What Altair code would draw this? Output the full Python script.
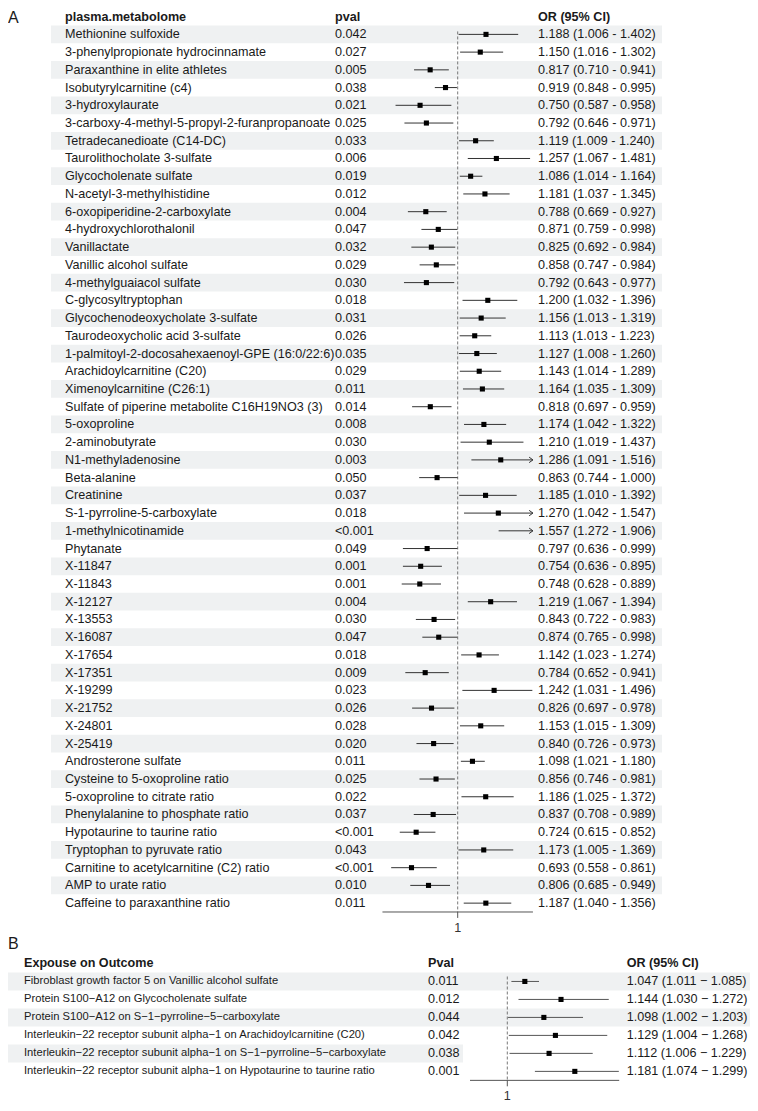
import altair as alt
import pandas as pd

# ---------------- Panel A data ----------------
names_a = [
    "Methionine sulfoxide", "3-phenylpropionate hydrocinnamate", "Paraxanthine in elite athletes",
    "Isobutyrylcarnitine (c4)", "3-hydroxylaurate", "3-carboxy-4-methyl-5-propyl-2-furanpropanoate",
    "Tetradecanedioate (C14-DC)", "Taurolithocholate 3-sulfate", "Glycocholenate sulfate",
    "N-acetyl-3-methylhistidine", "6-oxopiperidine-2-carboxylate", "4-hydroxychlorothalonil",
    "Vanillactate", "Vanillic alcohol sulfate", "4-methylguaiacol sulfate", "C-glycosyltryptophan",
    "Glycochenodeoxycholate 3-sulfate", "Taurodeoxycholic acid 3-sulfate",
    "1-palmitoyl-2-docosahexaenoyl-GPE (16:0/22:6)", "Arachidoylcarnitine (C20)",
    "Ximenoylcarnitine (C26:1)", "Sulfate of piperine metabolite C16H19NO3 (3)", "5-oxoproline",
    "2-aminobutyrate", "N1-methyladenosine", "Beta-alanine", "Creatinine",
    "S-1-pyrroline-5-carboxylate", "1-methylnicotinamide", "Phytanate", "X-11847", "X-11843",
    "X-12127", "X-13553", "X-16087", "X-17654", "X-17351", "X-19299", "X-21752", "X-24801",
    "X-25419", "Androsterone sulfate", "Cysteine to 5-oxoproline ratio",
    "5-oxoproline to citrate ratio", "Phenylalanine to phosphate ratio",
    "Hypotaurine to taurine ratio", "Tryptophan to pyruvate ratio",
    "Carnitine to acetylcarnitine (C2) ratio", "AMP to urate ratio", "Caffeine to paraxanthine ratio",
]
pvals_a = [
    "0.042", "0.027", "0.005", "0.038", "0.021", "0.025", "0.033", "0.006", "0.019", "0.012",
    "0.004", "0.047", "0.032", "0.029", "0.030", "0.018", "0.031", "0.026", "0.035", "0.029",
    "0.011", "0.014", "0.008", "0.030", "0.003", "0.050", "0.037", "0.018", "<0.001", "0.049",
    "0.001", "0.001", "0.004", "0.030", "0.047", "0.018", "0.009", "0.023", "0.026", "0.028",
    "0.020", "0.011", "0.025", "0.022", "0.037", "<0.001", "0.043", "<0.001", "0.010", "0.011",
]
or_a = [
    1.188, 1.150, 0.817, 0.919, 0.750, 0.792, 1.119, 1.257, 1.086, 1.181,
    0.788, 0.871, 0.825, 0.858, 0.792, 1.200, 1.156, 1.113, 1.127, 1.143,
    1.164, 0.818, 1.174, 1.210, 1.286, 0.863, 1.185, 1.270, 1.557, 0.797,
    0.754, 0.748, 1.219, 0.843, 0.874, 1.142, 0.784, 1.242, 0.826, 1.153,
    0.840, 1.098, 0.856, 1.186, 0.837, 0.724, 1.173, 0.693, 0.806, 1.187,
]
lo_a = [
    1.006, 1.016, 0.710, 0.848, 0.587, 0.646, 1.009, 1.067, 1.014, 1.037,
    0.669, 0.759, 0.692, 0.747, 0.643, 1.032, 1.013, 1.013, 1.008, 1.014,
    1.035, 0.697, 1.042, 1.019, 1.091, 0.744, 1.010, 1.042, 1.272, 0.636,
    0.636, 0.628, 1.067, 0.722, 0.765, 1.023, 0.652, 1.031, 0.697, 1.015,
    0.726, 1.021, 0.746, 1.025, 0.708, 0.615, 1.005, 0.558, 0.685, 1.040,
]
hi_a = [
    1.402, 1.302, 0.941, 0.995, 0.958, 0.971, 1.240, 1.481, 1.164, 1.345,
    0.927, 0.998, 0.984, 0.984, 0.977, 1.396, 1.319, 1.223, 1.260, 1.289,
    1.309, 0.959, 1.322, 1.437, 1.516, 1.000, 1.392, 1.547, 1.906, 0.999,
    0.895, 0.889, 1.394, 0.983, 0.998, 1.274, 0.941, 1.496, 0.978, 1.309,
    0.973, 1.180, 0.981, 1.372, 0.989, 0.852, 1.369, 0.861, 0.949, 1.356,
]

# ---------------- Panel B data ----------------
names_b = [
    "Fibroblast growth factor 5 on Vanillic alcohol sulfate",
    "Protein S100\u2212A12 on Glycocholenate sulfate",
    "Protein S100\u2212A12 on S\u22121\u2212pyrroline\u22125\u2212carboxylate",
    "Interleukin\u221222 receptor subunit alpha\u22121 on Arachidoylcarnitine (C20)",
    "Interleukin\u221222 receptor subunit alpha\u22121 on S\u22121\u2212pyrroline\u22125\u2212carboxylate",
    "Interleukin\u221222 receptor subunit alpha\u22121 on Hypotaurine to taurine ratio",
]
pvals_b = ["0.011", "0.012", "0.044", "0.042", "0.038", "0.001"]
or_b = [1.047, 1.144, 1.098, 1.129, 1.112, 1.181]
lo_b = [1.011, 1.030, 1.002, 1.004, 1.006, 1.074]
hi_b = [1.085, 1.272, 1.203, 1.268, 1.229, 1.299]

# ---------------- layout ----------------
W, H = 742, 1095
FONT = "Liberation Sans"
TXT = "#1a1a1a"
SHADE = "#eff1f2"
FS = 12.6
XA = [0.5, 1.5]
XB = [0.9, 1.3]
scaleA = alt.Scale(domain=XA, range=[374.45, 524.95], zero=False, nice=False)
scaleB = alt.Scale(domain=XB, range=[462.0, 611.2], zero=False, nice=False)
yscale = alt.Scale(domain=[0.0, 1108.0], range=[0, H], zero=False, nice=False)

A_ROW0, A_STEP = 26.7, 17.94
B_ROW0, B_STEP = 985.0, 18.2

dfa = pd.DataFrame({"name": names_a, "pval": pvals_a, "or": or_a, "lo": lo_a, "hi": hi_a})
dfa["i"] = range(len(dfa))
dfa["Y"] = A_ROW0 + dfa["i"] * A_STEP
dfa["y0"] = dfa["Y"] - A_STEP / 2
dfa["y1"] = dfa["Y"] + A_STEP / 2
dfa["lo_c"] = dfa["lo"].clip(lower=XA[0])
dfa["hi_c"] = dfa["hi"].clip(upper=XA[1])
dfa["ci"] = [f"{o:.3f} ({l:.3f} - {h:.3f})" for o, l, h in zip(or_a, lo_a, hi_a)]

dfb = pd.DataFrame({"name": names_b, "pval": pvals_b, "or": or_b, "lo": lo_b, "hi": hi_b})
dfb["i"] = range(len(dfb))
dfb["Y"] = B_ROW0 + dfb["i"] * B_STEP
dfb["y0"] = dfb["Y"] - B_STEP / 2
dfb["y1"] = dfb["Y"] + B_STEP / 2
dfb["lo_c"] = dfb["lo"].clip(lower=XB[0])
dfb["hi_c"] = dfb["hi"].clip(upper=XB[1])
dfb["ci"] = [f"{o:.3f} ({l:.3f} \u2212 {h:.3f})" for o, l, h in zip(or_b, lo_b, hi_b)]

A_AXIS = A_ROW0 + (len(dfa) - 0.5) * A_STEP
B_AXIS = B_ROW0 + (len(dfb) - 0.5) * B_STEP

Yq = alt.Y("Y:Q", scale=yscale, axis=None)


def text_layer(df, field, x, size=FS, bold=False, align="left", color=TXT):
    return alt.Chart(df).mark_text(
        align=align, baseline="middle", font=FONT, fontSize=size,
        fontWeight="bold" if bold else "normal", color=color,
    ).encode(x=alt.value(x), y=Yq, text=f"{field}:N")


layers = []

# ---- Panel A ----
layers.append(
    alt.Chart(dfa[dfa["i"] % 2 == 0]).mark_rect(color=SHADE).encode(
        x=alt.value(43), x2=alt.value(654),
        y=alt.Y("y0:Q", scale=yscale, axis=None), y2="y1:Q",
    )
)
ref_a = pd.DataFrame({"x": [1.0], "ya": [A_ROW0 - 3], "yb": [A_AXIS]})
layers.append(
    alt.Chart(ref_a).mark_rule(color="#555555", strokeDash=[3, 2], strokeWidth=0.8).encode(
        x=alt.X("x:Q", scale=scaleA, axis=None),
        y=alt.Y("ya:Q", scale=yscale, axis=None), y2="yb:Q",
    )
)
layers.append(
    alt.Chart(dfa).mark_rule(color="#333333", strokeWidth=1).encode(
        x=alt.X("lo_c:Q", scale=scaleA, axis=None), x2="hi_c:Q", y=Yq,
    )
)
layers.append(
    alt.Chart(dfa[(dfa["or"] >= XA[0]) & (dfa["or"] <= XA[1])]).mark_square(
        size=26, color="black", opacity=1
    ).encode(x=alt.X("or:Q", scale=scaleA, axis=None), y=Yq)
)
layers.append(
    alt.Chart(dfa[dfa["hi"] > XA[1]]).mark_point(
        shape="M-1.4,-1L0,0L-1.4,1", filled=False, size=30, stroke="#333333", strokeWidth=1, opacity=1
    ).encode(x=alt.X("hi_c:Q", scale=scaleA, axis=None), y=Yq)
)
axis_a = pd.DataFrame({"x0": [XA[0]], "x1": [XA[1]], "tick": [1.0], "Y": [A_AXIS],
                       "Yt": [A_AXIS + 6], "Yl": [A_AXIS + 16], "lab": ["1"]})
layers.append(
    alt.Chart(axis_a).mark_rule(color="#555555", strokeWidth=1).encode(
        x=alt.X("x0:Q", scale=scaleA, axis=None), x2="x1:Q", y=Yq,
    )
)
layers.append(
    alt.Chart(axis_a).mark_rule(color="#555555", strokeWidth=1).encode(
        x=alt.X("tick:Q", scale=scaleA, axis=None), y=Yq,
        y2=alt.Y2("Yt:Q"),
    )
)
layers.append(
    alt.Chart(axis_a).mark_text(align="center", baseline="middle", font=FONT, fontSize=FS, color="#333333").encode(
        x=alt.X("tick:Q", scale=scaleA, axis=None), y=alt.Y("Yl:Q", scale=yscale, axis=None), text="lab:N",
    )
)
layers.append(text_layer(dfa, "name", 57))
layers.append(text_layer(dfa, "pval", 327))
layers.append(text_layer(dfa, "ci", 530))

hdr_a = pd.DataFrame({"Y": [8.8], "h1": ["plasma.metabolome"], "h2": ["pval"], "h3": ["OR (95% CI)"]})
lab_a = pd.DataFrame({"Y": [9.8], "lab": ["A"]})
layers.append(text_layer(hdr_a, "h1", 57, bold=True))
layers.append(text_layer(hdr_a, "h2", 327, bold=True))
layers.append(text_layer(hdr_a, "h3", 530, bold=True))
layers.append(text_layer(lab_a, "lab", 0, size=16))

# ---- Panel B ----
layers.append(
    alt.Chart(dfb[dfb["i"].isin([0, 2])]).mark_rect(color=SHADE).encode(
        x=alt.value(0), x2=alt.value(742),
        y=alt.Y("y0:Q", scale=yscale, axis=None), y2="y1:Q",
    )
)
layers.append(
    alt.Chart(dfb[dfb["i"].isin([4])]).mark_rect(color=SHADE).encode(
        x=alt.value(0), x2=alt.value(455),
        y=alt.Y("y0:Q", scale=yscale, axis=None), y2="y1:Q",
    )
)
ref_b = pd.DataFrame({"x": [1.0], "ya": [B_ROW0 - 5], "yb": [B_AXIS]})
layers.append(
    alt.Chart(ref_b).mark_rule(color="#555555", strokeDash=[3, 2], strokeWidth=0.8).encode(
        x=alt.X("x:Q", scale=scaleB, axis=None),
        y=alt.Y("ya:Q", scale=yscale, axis=None), y2="yb:Q",
    )
)
layers.append(
    alt.Chart(dfb).mark_rule(color="#555555", strokeWidth=1).encode(
        x=alt.X("lo_c:Q", scale=scaleB, axis=None), x2="hi_c:Q", y=Yq,
    )
)
layers.append(
    alt.Chart(dfb).mark_square(size=26, color="black", opacity=1).encode(
        x=alt.X("or:Q", scale=scaleB, axis=None), y=Yq
    )
)
axis_b = pd.DataFrame({"x0": [XB[0]], "x1": [XB[1]], "tick": [1.0], "Y": [B_AXIS],
                       "Yt": [B_AXIS + 6], "Yl": [B_AXIS + 15.5], "lab": ["1"]})
layers.append(
    alt.Chart(axis_b).mark_rule(color="#555555", strokeWidth=1).encode(
        x=alt.X("x0:Q", scale=scaleB, axis=None), x2="x1:Q", y=Yq,
    )
)
layers.append(
    alt.Chart(axis_b).mark_rule(color="#555555", strokeWidth=1).encode(
        x=alt.X("tick:Q", scale=scaleB, axis=None), y=Yq, y2=alt.Y2("Yt:Q"),
    )
)
layers.append(
    alt.Chart(axis_b).mark_text(align="center", baseline="middle", font=FONT, fontSize=FS, color="#333333").encode(
        x=alt.X("tick:Q", scale=scaleB, axis=None), y=alt.Y("Yl:Q", scale=yscale, axis=None), text="lab:N",
    )
)
layers.append(text_layer(dfb, "name", 16, size=11.2))
layers.append(text_layer(dfb, "pval", 420))
layers.append(text_layer(dfb, "ci", 618.7))

hdr_b = pd.DataFrame({"Y": [966.0], "h1": ["Expouse on Outcome"], "h2": ["Pval"], "h3": ["OR (95% CI)"]})
lab_b = pd.DataFrame({"Y": [947.0], "lab": ["B"]})
layers.append(text_layer(hdr_b, "h1", 16, bold=True))
layers.append(text_layer(hdr_b, "h2", 420, bold=True))
layers.append(text_layer(hdr_b, "h3", 618.7, bold=True))
layers.append(text_layer(lab_b, "lab", 0, size=16))

chart = (
    alt.layer(*layers)
    .resolve_scale(x="independent")
    .properties(width=W, height=H, autosize=alt.AutoSizeParams(type="none"), padding=0,
                background="white")
    .configure_view(stroke=None)
)

chart.save("out.html", embed_options={"renderer": "svg", "actions": False})
